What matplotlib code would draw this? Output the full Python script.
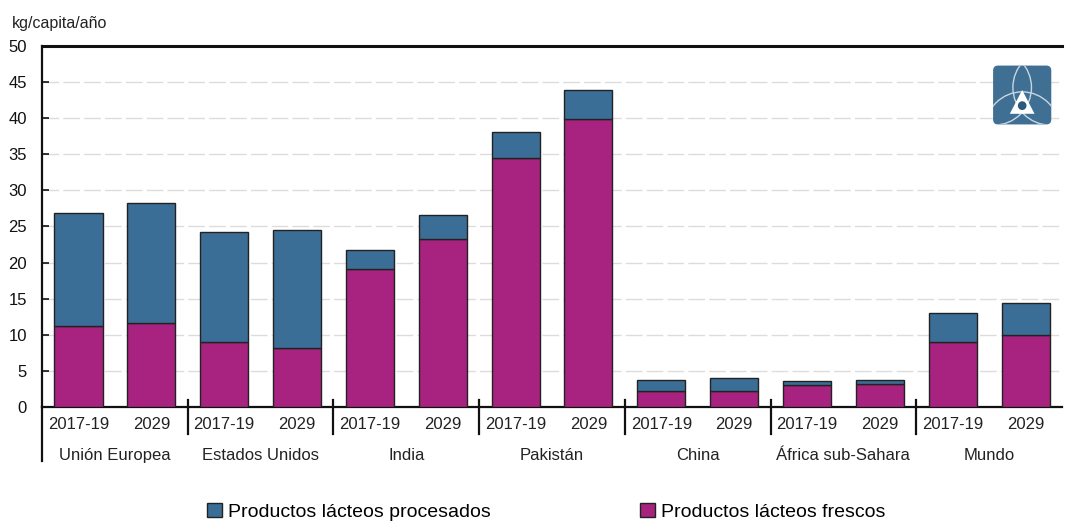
import matplotlib
matplotlib.use("Agg")
import matplotlib.pyplot as plt
import matplotlib.transforms as mtransforms
from matplotlib.patches import FancyBboxPatch, Circle, Polygon, Patch
import numpy as np

plt.rcParams['font.family'] = ['Liberation Sans', 'DejaVu Sans']

groups = ["Unión Europea", "Estados Unidos", "India", "Pakistán", "China", "África sub-Sahara", "Mundo"]
periods = ["2017-19", "2029"]
fresh = [11.2, 11.6, 9.0, 8.2, 19.1, 23.3, 34.5, 39.9, 2.2, 2.2, 3.0, 3.2, 9.0, 10.0]
total = [26.9, 28.3, 24.2, 24.5, 21.7, 26.6, 38.1, 43.9, 3.7, 4.0, 3.6, 3.7, 13.0, 14.4]
processed = [t - f for t, f in zip(total, fresh)]
yticks = list(range(0, 51, 5))
ylabel = "kg/capita/año"
legend_labels = ["Productos lácteos procesados", "Productos lácteos frescos"]

c_blue = "#3b6e96"
c_mag = "#a8237f"

fig = plt.figure(figsize=(10.67, 5.22), dpi=100)
ax = fig.add_axes([0.0394, 0.2203, 0.9559, 0.6916])

n = len(fresh)
x = np.arange(n)
ax.bar(x, fresh, width=0.66, color=c_mag, edgecolor="#222222", linewidth=1.0, zorder=3)
ax.bar(x, processed, bottom=fresh, width=0.66, color=c_blue, edgecolor="#222222", linewidth=1.0, zorder=3)

ax.set_xlim(-0.5, n - 0.5)
ax.set_ylim(0, 50)
ax.set_yticks(yticks)
ax.yaxis.grid(True, color="#dcdcdc", linestyle=(0, (12, 3)), linewidth=1.0, zorder=0)
ax.tick_params(axis="y", direction="in", length=5, width=1.2, labelsize=12, pad=11, colors="#111111")
ax.set_xticks(x)
ax.set_xticklabels([periods[i % 2] for i in range(n)], fontsize=12, color="#222222")
ax.tick_params(axis="x", length=0, pad=7)

for s in ["left", "bottom", "top"]:
    ax.spines[s].set_color("#111111")
    ax.spines[s].set_linewidth(1.6)
ax.spines["top"].set_linewidth(2.2)
ax.spines["right"].set_visible(False)

trans = mtransforms.blended_transform_factory(ax.transData, ax.transAxes)
for g in range(1, len(groups)):
    xs = 2 * g - 0.5
    ax.plot([xs, xs], [0.02, -0.075], transform=trans, color="#111111", lw=1.6, clip_on=False)
ax.plot([-0.5, -0.5], [0, -0.15], transform=trans, color="#111111", lw=1.6, clip_on=False)

for g, name in enumerate(groups):
    ax.text(2 * g + 0.5, -0.135, name, transform=trans, ha="center", va="center", fontsize=12, color="#222222")

fig.text(0.011, 0.955, ylabel, fontsize=11.5, color="#222222", ha="left", va="center")

handles = [Patch(facecolor=c_blue, edgecolor="#222222"), Patch(facecolor=c_mag, edgecolor="#222222")]
fig.legend(handles, legend_labels, loc="center", bbox_to_anchor=(0.512, 0.02), ncol=2, frameon=False,
           fontsize=14, handlelength=0.75, handleheight=0.75, handletextpad=0.3, columnspacing=7.7)

# logo
lax = fig.add_axes([0.929, 0.758, 0.058, 0.12])
lax.set_xlim(0, 1); lax.set_ylim(0, 1); lax.axis("off")
bg = FancyBboxPatch((0.03, 0.03), 0.94, 0.94, boxstyle="round,pad=0,rounding_size=0.08",
                    facecolor="#3f6f93", edgecolor="none")
lax.add_patch(bg)
arcs = []
for cx, cy in [(0.05, 0.62), (0.95, 0.62), (0.5, -0.05)]:
    c = Circle((cx, cy), 0.6, fill=False, edgecolor="#c8d6e2", lw=1.0)
    lax.add_patch(c)
    arcs.append(c)
tri = Polygon([[0.5, 0.58], [0.3, 0.2], [0.7, 0.2]], closed=True, facecolor="white", edgecolor="none")
lax.add_patch(tri)
drop = Circle((0.5, 0.33), 0.07, facecolor="#2d5a7c", edgecolor="none")
lax.add_patch(drop)
for p in arcs + [tri]:
    p.set_clip_path(bg)

fig.savefig("out.png", dpi=100)
